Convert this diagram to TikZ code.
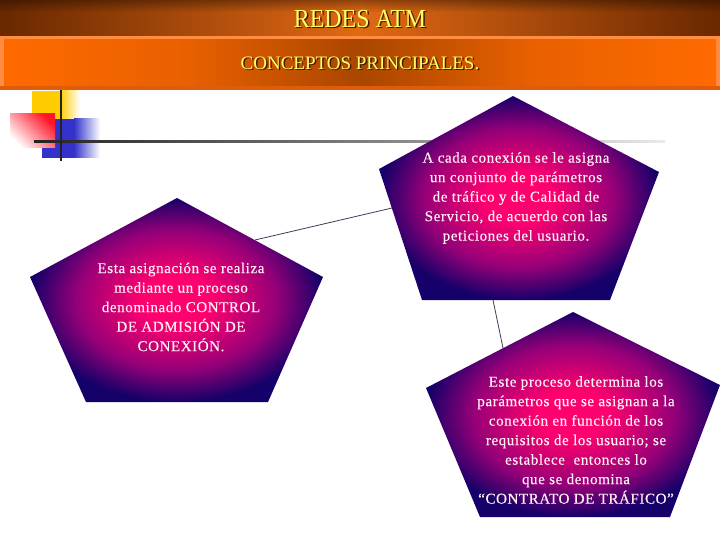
\documentclass[tikz,border=0pt]{standalone}
\usepackage{fontspec}
\setmainfont{Liberation Serif}
\newfontfamily\ptfontfam[LetterSpace=4,FakeBold=0.4]{Liberation Serif}
\newcommand\ptfont{\ptfontfam\fontsize{15}{19.5}\selectfont}
\usetikzlibrary{fadings}
\definecolor{pk}{RGB}{255,0,110}
\definecolor{md}{RGB}{150,0,120}
\definecolor{nv}{RGB}{22,0,105}
\definecolor{brd}{RGB}{105,40,0}
\definecolor{brm}{RGB}{225,105,20}
\definecolor{o1}{RGB}{255,106,0}
\definecolor{o2}{RGB}{232,96,0}
\definecolor{o3}{RGB}{170,70,0}
\definecolor{obev}{RGB}{255,140,64}
\definecolor{obot}{RGB}{222,92,10}
\definecolor{ttl}{RGB}{255,255,102}
\definecolor{shd}{RGB}{70,25,0}
\definecolor{ptxt}{RGB}{255,240,245}
\definecolor{yel}{RGB}{255,204,0}
\definecolor{blu}{RGB}{51,51,204}
\definecolor{redq}{RGB}{255,20,40}
\definecolor{connc}{RGB}{60,60,90}
\definecolor{rk}{RGB}{35,35,35}
\definecolor{rl}{RGB}{235,235,235}
\pgfdeclareradialshading{pentshade}{\pgfpoint{0bp}{0bp}}{color(0bp)=(pk); color(6bp)=(pk); color(17bp)=(md); color(25bp)=(nv); color(50bp)=(nv)}
\pgfdeclarehorizontalshading{faceshade}{100bp}{color(0bp)=(o1); color(25bp)=(o1); color(38bp)=(o2); color(50bp)=(o3); color(62bp)=(o2); color(75bp)=(o1); color(100bp)=(o1)}
\pgfdeclarehorizontalshading{topshade}{100bp}{color(0bp)=(brd); color(25bp)=(brd); color(50bp)=(brm); color(75bp)=(brd); color(100bp)=(brd)}
\pgfdeclarehorizontalshading{ruleshade}{100bp}{color(0bp)=(rk); color(25bp)=(rk); color(55bp)=(black!45); color(75bp)=(rl); color(100bp)=(rl)}
\tikzset{
  pent/.style={shading=pentshade},
  ptext/.style={text=ptxt, align=center, font=\ptfont, inner sep=0pt},
  conn/.style={draw=connc, line width=0.8pt},
  ttlfont/.style={font=\fontsize{26}{26}\selectfont, inner sep=0pt, xscale=0.92},
  subfont/.style={font=\fontsize{19}{19}\selectfont, inner sep=0pt}
}
\begin{document}
\begin{tikzpicture}[x=1pt,y=-1pt]
\useasboundingbox[fill=white] (0,0) rectangle (720,540);
% header band 1
\path[shading=topshade] (0,0) rectangle (720,36);
\fill[black, fill opacity=0.35, path fading=south] (0,0) rectangle (720,12);
% header band 2
\fill[obev] (0,36) rectangle (720,90);
\fill[obot] (0,86) rectangle (720,90);
\path[shading=faceshade] (4,40) rectangle (716,86);
% titles
\node[ttlfont, text=shd] (titleshadow) at (361.5,20.5) {REDES ATM};
\node[ttlfont, text=ttl] (title) at (360,19) {REDES ATM};
\node[subfont, text=shd] (subshadow) at (361.5,64.5) {CONCEPTOS PRINCIPALES.};
\node[subfont, text=ttl] (subtitle) at (360,63) {CONCEPTOS PRINCIPALES.};
% decorative squares
\fill[yel] (32,91) rectangle (60,120);
\shade[left color=yel, right color=white] (60,91) rectangle (80,120);
\fill[blu] (42,119) rectangle (74,158);
\shade[left color=blu, right color=white] (74,119) rectangle (100,158);
\shade[top color=redq, bottom color=white, shading angle=-45] (10,114) rectangle (55,148);
\path[shading=ruleshade] (34,140.3) rectangle (665,142.9);
\draw[line width=2.6pt, rk] (61,90) -- (61,161);
% connectors
\coordinate (c1a) at (255,240);
\coordinate (c1b) at (392,208);
\coordinate (c2a) at (493,300);
\coordinate (c2b) at (503,348);
\draw[conn] (c1a) -- (c1b);
\draw[conn] (c2a) -- (c2b);
% pentagons
\path[pent] (513,96) -- (659,172) -- (610,300) -- (422,300) -- (379,169) -- cycle;
\path[pent] (177,198) -- (323,277) -- (268,402) -- (86,402) -- (30,277) -- cycle;
\path[pent] (573,312) -- (720,385) -- (670,517) -- (480,517) -- (426,388) -- cycle;
% texts
\node[ptext] (t1) at (516,198) {A cada conexión se le asigna\\un conjunto de parámetros\\de tráfico y de Calidad de\\Servicio, de acuerdo con las\\peticiones del usuario.};
\node[ptext] (t2) at (181,307) {Esta asignación se realiza\\mediante un proceso\\denominado CONTROL\\DE ADMISIÓN DE\\CONEXIÓN.};
\node[ptext] (t3) at (576,440) {Este proceso determina los\\parámetros que se asignan a la\\conexión en función de los\\requisitos de los usuario; se\\establece\ \ entonces lo\\que se denomina\\“CONTRATO DE TRÁFICO”};
\end{tikzpicture}
\end{document}
